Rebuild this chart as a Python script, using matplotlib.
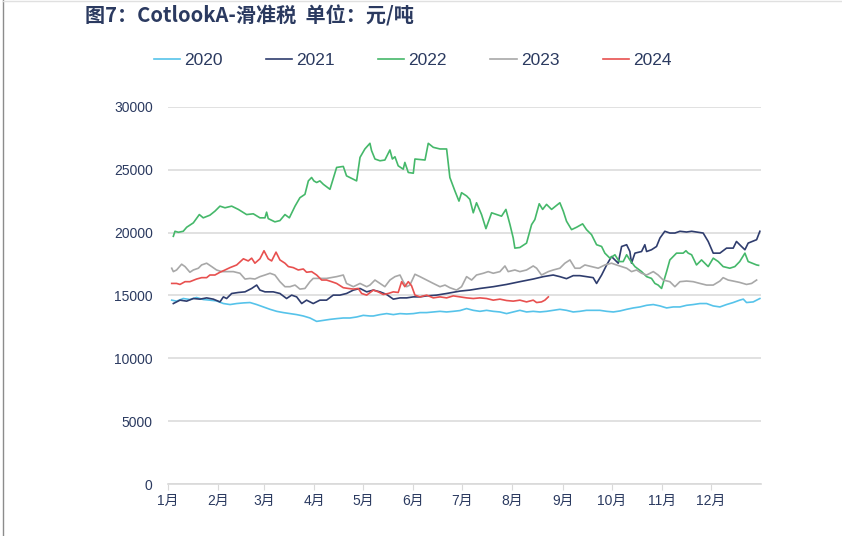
# CotlookA-滑准税 各年度价格走势 (2020-2024)
import numpy as np
import matplotlib
matplotlib.use("Agg")
import matplotlib.pyplot as plt
from matplotlib.lines import Line2D

plt.rcParams['font.family'] = ['Liberation Sans', 'Noto Sans CJK SC', 'DejaVu Sans']

# ---- 数据 (按日序号, 元/吨) ----
days_2020 = [2.3, 5.3, 9.4, 13.5, 17.6, 21.7, 25.8, 29.9, 34.1, 38.2, 42.3, 46.4, 50.5, 54.6, 58.7, 62.8, 66.9, 71.0,
             75.1, 79.2, 83.3, 87.4, 91.5, 95.6, 99.7, 103.8, 107.9, 112.0, 116.1, 120.2, 124.3, 126.4, 130.5, 134.6,
             138.7, 142.8, 146.9, 151.0, 155.1, 159.2, 163.3, 167.4, 171.5, 175.6, 179.7, 183.8, 187.9, 192.0, 196.1,
             200.2, 204.3, 208.4, 212.5, 216.6, 220.7, 224.8, 228.9, 233.0, 237.1, 241.2, 245.3, 249.4, 253.5, 257.6,
             261.7, 265.8, 270.0, 274.1, 278.2, 282.3, 286.4, 290.5, 294.6, 298.7, 302.8, 306.9, 311.0, 315.1, 319.2,
             323.3, 327.4, 331.5, 335.6, 339.7, 343.8, 347.9, 351.9, 354.1, 356.1, 360.2, 362.3, 364.3]
vals_2020 = [14630, 14550, 14760, 14680, 14840, 14680, 14630, 14570, 14360, 14280, 14360, 14410, 14440, 14280, 14090,
             13900, 13740, 13640, 13560, 13480, 13370, 13210, 12940, 13020, 13100, 13160, 13210, 13210, 13290, 13420,
             13370, 13370, 13480, 13560, 13480, 13560, 13530, 13560, 13640, 13640, 13690, 13740, 13690, 13740, 13800,
             13960, 13820, 13740, 13820, 13740, 13690, 13560, 13690, 13820, 13690, 13740, 13690, 13740, 13820, 13900,
             13820, 13690, 13740, 13820, 13820, 13820, 13740, 13690, 13770, 13900, 14010, 14090, 14220, 14280, 14170,
             14010, 14090, 14090, 14220, 14280, 14360, 14360, 14170, 14090, 14280, 14440, 14630, 14710, 14440, 14490,
             14630, 14760]

days_2021 = [3.3, 7.4, 11.5, 15.6, 19.7, 23.8, 27.9, 32.0, 34.1, 36.1, 39.2, 43.3, 47.4, 51.5, 54.6, 56.6, 59.7, 64.8,
             68.9, 73.0, 76.1, 79.2, 82.3, 85.3, 89.4, 93.5, 97.6, 101.7, 105.8, 109.9, 114.1, 118.2, 122.3, 126.4,
             130.5, 134.6, 138.7, 142.8, 146.9, 151.0, 155.1, 159.2, 165.3, 171.5, 179.7, 185.8, 192.0, 200.2, 208.4,
             216.6, 224.8, 231.0, 237.1, 241.2, 245.3, 249.4, 253.5, 257.6, 261.7, 263.8, 266.9, 270.0, 273.0, 275.1,
             277.1, 279.2, 282.3, 284.3, 285.3, 287.4, 291.5, 293.5, 294.6, 297.6, 300.7, 302.8, 305.8, 308.9, 312.0,
             315.1, 319.2, 322.3, 325.3, 329.4, 332.5, 335.6, 339.7, 343.8, 347.9, 349.9, 353.0, 355.1, 357.1, 362.3,
             364.3]
vals_2021 = [14360, 14630, 14550, 14760, 14710, 14810, 14710, 14490, 14890, 14760, 15160, 15240, 15290, 15560, 15830,
             15430, 15290, 15290, 15160, 14760, 15030, 14890, 14360, 14630, 14360, 14630, 14630, 15030, 15030, 15160,
             15430, 15560, 15290, 15430, 15290, 15080, 14710, 14810, 14810, 14890, 14890, 14970, 15030, 15160, 15350,
             15430, 15560, 15700, 15880, 16100, 16310, 16500, 16630, 16500, 16340, 16580, 16580, 16500, 16420, 15960,
             16630, 17430, 18100, 17830, 17570, 18900, 19040, 18500, 17570, 18370, 18500, 19040, 18500, 18640, 18900,
             19570, 20110, 19970, 19970, 20110, 20050, 20110, 20050, 19970, 19300, 18370, 18370, 18770, 18770, 19300,
             18900, 18640, 19170, 19440, 20110]

days_2022 = [3.3, 4.3, 6.4, 9.4, 11.5, 15.6, 19.3, 21.7, 25.8, 28.9, 32.0, 35.1, 39.2, 43.3, 48.4, 52.5, 56.6, 59.7,
             60.7, 61.7, 65.8, 68.9, 72.0, 74.7, 78.2, 81.2, 84.3, 86.4, 88.4, 89.8, 91.5, 93.5, 95.6, 99.7, 103.8,
             107.9, 109.9, 116.1, 118.2, 121.2, 124.3, 125.3, 127.4, 130.5, 133.5, 136.6, 138.1, 139.7, 141.7, 144.8,
             145.8, 147.9, 151.0, 152.0, 158.2, 160.2, 163.3, 167.4, 171.5, 173.5, 176.6, 179.1, 180.7, 183.8, 185.8,
             187.9, 189.9, 193.0, 195.7, 199.2, 202.3, 205.3, 208.0, 210.5, 212.5, 213.5, 216.6, 220.7, 223.8, 225.8,
             228.5, 230.6, 233.0, 236.1, 241.2, 243.3, 245.3, 248.4, 251.5, 255.2, 257.6, 260.7, 263.8, 266.9, 268.9,
             272.0, 275.1, 277.7, 280.2, 282.3, 284.3, 287.4, 291.5, 294.6, 297.6, 299.7, 301.7, 303.8, 306.9, 308.9,
             313.0, 317.1, 318.8, 320.2, 322.3, 325.3, 328.4, 332.5, 335.6, 338.7, 341.7, 345.8, 348.9, 351.9, 355.1,
             357.1, 362.3, 363.5]
vals_2022 = [19710, 20110, 20030, 20110, 20430, 20780, 21440, 21180, 21390, 21710, 22110, 21980, 22110, 21850, 21440,
             21500, 21180, 21180, 21630, 21120, 20860, 20960, 21440, 21180, 22110, 22780, 23050, 24120, 24390, 24120,
             23990, 24120, 23850, 23450, 25190, 25270, 24520, 24120, 25990, 26660, 27110, 26530, 25860, 25720, 25780,
             26580, 25860, 26040, 25320, 25050, 25590, 24790, 24730, 25860, 25780, 27110, 26790, 26660, 26660, 24390,
             23320, 22510, 23180, 22920, 22650, 21580, 22380, 21440, 20320, 21580, 21440, 21310, 21850, 20640, 19570,
             18770, 18820, 19170, 20640, 21040, 22300, 21850, 22250, 21850, 22380, 21710, 20910, 20240, 20430, 20700,
             20240, 19840, 19040, 18900, 18370, 17970, 18240, 17700, 17700, 18240, 17830, 17300, 16900, 16500, 16360,
             15960, 15830, 15560, 16900, 17830, 18370, 18370, 18560, 18370, 18240, 17430, 17830, 17300, 17970, 17700,
             17300, 17170, 17300, 17700, 18370, 17700, 17430, 17400]

days_2023 = [2.3, 3.3, 5.3, 8.4, 10.5, 13.5, 15.6, 18.7, 20.7, 23.8, 26.9, 29.9, 33.0, 36.1, 40.2, 44.3, 47.4, 50.5,
             53.5, 56.6, 59.7, 62.8, 65.8, 68.9, 72.0, 75.1, 78.2, 81.2, 84.3, 87.4, 89.4, 93.5, 97.6, 103.8, 107.9,
             109.9, 114.1, 118.2, 122.3, 124.3, 127.4, 130.5, 133.5, 136.6, 139.7, 142.8, 144.8, 146.9, 148.9, 152.0,
             155.1, 159.2, 163.3, 167.4, 170.5, 173.5, 177.6, 180.7, 183.8, 186.9, 189.9, 194.1, 197.1, 200.2, 204.3,
             207.4, 209.4, 213.5, 216.6, 220.7, 224.8, 226.9, 229.9, 234.1, 237.1, 241.2, 244.3, 247.4, 250.5, 253.5,
             256.6, 260.7, 264.8, 268.9, 273.0, 276.1, 279.2, 282.3, 285.3, 288.4, 291.5, 294.6, 298.7, 301.7, 304.8,
             308.9, 312.0, 315.1, 319.2, 323.3, 327.4, 331.5, 335.6, 339.7, 341.7, 344.8, 347.9, 351.9, 356.1, 359.2,
             362.3]
vals_2023 = [17170, 16900, 17030, 17490, 17300, 16850, 17030, 17170, 17430, 17570, 17300, 17030, 16900, 16900, 16900,
             16770, 16310, 16360, 16310, 16500, 16630, 16770, 16630, 16100, 15700, 15700, 15830, 15510, 15560, 16100,
             16360, 16360, 16360, 16500, 16630, 15960, 15700, 15960, 15700, 15830, 16230, 15960, 15700, 16230, 16500,
             16630, 16100, 15700, 15830, 16690, 16500, 16230, 15960, 15700, 15830, 15620, 15430, 15700, 16500, 16230,
             16630, 16770, 16900, 16770, 16900, 17350, 16900, 17030, 16900, 17030, 17350, 17170, 16630, 16900, 17030,
             17170, 17570, 17830, 17170, 17170, 17430, 17300, 17170, 17430, 17570, 17430, 17300, 17170, 16900, 17030,
             16770, 16630, 16900, 16630, 16230, 16100, 15700, 16100, 16150, 16100, 15960, 15830, 15830, 16150, 16420,
             16230, 16150, 16040, 15880, 15960, 16230]

days_2024 = [2.3, 5.3, 7.4, 10.5, 13.5, 17.6, 20.7, 23.8, 25.8, 28.9, 32.0, 35.1, 38.2, 42.3, 46.4, 49.4, 51.5, 53.5,
             56.6, 59.1, 61.7, 63.8, 66.5, 68.9, 72.0, 74.1, 77.1, 80.2, 83.3, 85.3, 88.4, 91.5, 94.6, 97.6, 100.7,
             103.8, 107.9, 111.0, 114.1, 117.1, 119.2, 122.3, 126.4, 129.4, 132.5, 135.6, 138.7, 141.7, 143.8, 145.8,
             147.9, 149.9, 152.0, 155.1, 159.2, 163.3, 167.4, 171.5, 175.6, 179.7, 183.8, 187.9, 192.0, 196.1, 200.2,
             204.3, 208.4, 212.5, 216.6, 220.7, 224.8, 226.9, 229.9, 232.0, 234.1]
vals_2024 = [15960, 15960, 15880, 16100, 16100, 16310, 16420, 16420, 16630, 16630, 16850, 17030, 17220, 17430, 17920,
             17750, 17970, 17570, 17920, 18560, 17920, 17750, 18450, 17830, 17570, 17300, 17220, 17030, 17110, 16850,
             16900, 16630, 16230, 16230, 16100, 15960, 15620, 15560, 15510, 15560, 15160, 15030, 15430, 15290, 15080,
             15160, 15290, 15240, 16100, 15700, 16100, 15780, 15030, 14890, 15030, 14810, 14890, 14810, 14970, 14890,
             14810, 14760, 14810, 14760, 14630, 14710, 14600, 14550, 14630, 14490, 14630, 14440, 14490, 14630, 14890]

years = ["2020", "2021", "2022", "2023", "2024"]
month_starts = [0, 31, 59, 90, 120, 151, 181, 212, 243, 273, 304, 334]
month_labels = ["1月", "2月", "3月", "4月", "5月", "6月", "7月", "8月", "9月", "10月", "11月", "12月"]
y_ticks = [0, 5000, 10000, 15000, 20000, 25000, 30000]

colors = ["#56C3EA", "#2F3D6E", "#45B86A", "#A8A8A8", "#E8504F"]
navy = "#2B3A60"

fig = plt.figure(figsize=(8.42, 5.36), dpi=100)
ax = fig.add_axes([0.1995, 0.097, 0.7043, 0.7034])

series = [(days_2020, vals_2020), (days_2021, vals_2021), (days_2022, vals_2022),
          (days_2023, vals_2023), (days_2024, vals_2024)]
for (d, v), c, lab in zip(series, colors, years):
    ax.plot(d, v, color=c, lw=1.2, label=lab)

# 坐标轴
ax.set_xlim(0, 365)
ax.set_ylim(0, 30000)
ax.set_xticks(month_starts)
ax.set_xticklabels(month_labels, fontsize=10, color=navy)
ax.set_yticks(y_ticks)
ax.set_yticklabels([str(t) for t in y_ticks], fontsize=10, color=navy)
ax.tick_params(axis='x', length=4, color="#D9D9D9", pad=3)
ax.tick_params(axis='y', length=0, pad=11)
ax.grid(axis='y', color="#DCDCDC", lw=1.2)
ax.set_axisbelow(True)
for s in ["top", "right", "left"]:
    ax.spines[s].set_visible(False)
ax.spines["bottom"].set_color("#D9D9D9")
ax.spines["bottom"].set_linewidth(1.2)

# 图例
fig.legend(loc="center", bbox_to_anchor=(0.49, 0.888), ncol=5, frameon=False,
           fontsize=12.5, handlelength=1.5, handletextpad=0.25, columnspacing=2.5,
           labelcolor=navy)

# 标题
fig.text(0.101, 0.971, "图7：CotlookA-滑准税  单位：元/吨", fontsize=14.5, fontweight="bold",
         color=navy, ha="left", va="center", family=["Noto Sans CJK SC", "DejaVu Sans"])

# 边框
fig.add_artist(Line2D([0.004, 0.004], [0, 1], transform=fig.transFigure, color="#8C8C8C", lw=1.0))
fig.add_artist(Line2D([0.004, 1], [0.998, 0.998], transform=fig.transFigure, color="#E0E0E0", lw=1.0))

fig.savefig("out.png", dpi=100)
